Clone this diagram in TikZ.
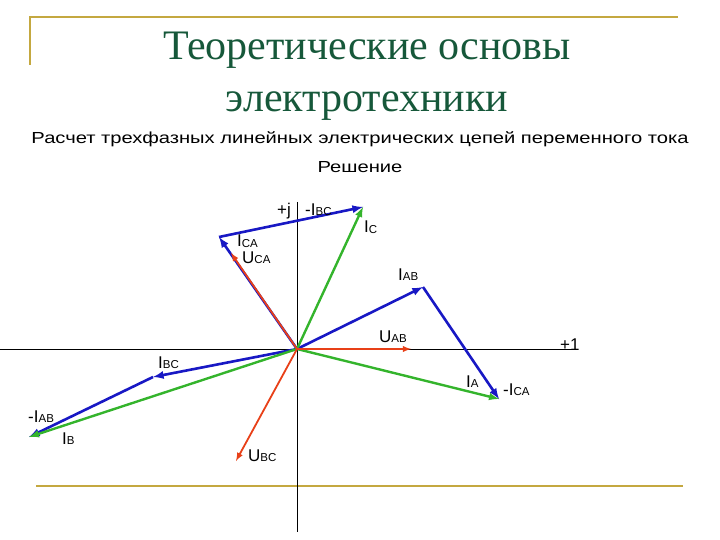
\documentclass[tikz,border=0pt]{standalone}
\usepackage{fontspec}
\setmainfont{Liberation Serif}
\setsansfont{Liberation Sans}
\usetikzlibrary{calc,positioning}

\definecolor{frameGold}{RGB}{196,168,64}
\definecolor{titleGreen}{RGB}{22,88,58}
\definecolor{vecBlue}{RGB}{24,24,196}
\definecolor{vecGreen}{RGB}{52,180,44}
\definecolor{vecRed}{RGB}{232,64,24}

\newcommand{\vlab}[2]{#1\raisebox{-0.5pt}{\fontsize{11.5}{12}\selectfont #2}}
\newcommand{\widetext}[1]{\scalebox{1.26}[1]{#1}}

\begin{document}
\begin{tikzpicture}[x=1pt,y=-1pt,>=latex,
  axis/.style={black,line width=0.8pt},
  cur/.style={->,vecBlue,line width=2.6pt},
  sum/.style={->,vecGreen,line width=2.4pt},
  volt/.style={->,vecRed,line width=1.8pt},
  lab/.style={font=\sffamily\fontsize{17}{17}\selectfont,anchor=base west,inner sep=0pt}]
\useasboundingbox (0,0) rectangle (720,540);
% frame and titles
\draw[frameGold,line width=2pt] (30,65) -- (30,17) -- (678,17);
\draw[frameGold,line width=2pt] (36,486) -- (683,486);
\node[titleGreen,font=\fontsize{42}{42}\selectfont,anchor=base] (title1) at (367,60) {Теоретические основы};
\node[titleGreen,font=\fontsize{42}{42}\selectfont,anchor=base] (title2) at (367,112) {электротехники};
\node[font=\sffamily\fontsize{16}{16}\selectfont,anchor=base] (sub1) at (360,144) {\widetext{Расчет трехфазных линейных электрических цепей переменного тока}};
\node[font=\sffamily\fontsize{16}{16}\selectfont,anchor=base] (sub2) at (360,173) {\widetext{Решение}};
% points
\coordinate (O) at (297,349);
\coordinate (Xl) at (0,349);
\coordinate (Xr) at (577,349);
\coordinate (Yt) at (297,202);
\coordinate (Yb) at (297,532);
\coordinate (Uab) at (411,349);
\coordinate (Ubc) at (236,461);
\coordinate (Uca) at (231,253);
\coordinate (Iab) at (423,287);
\coordinate (Ica) at (219,237);
\coordinate (Ibc) at (153,377);
\coordinate (Ia) at (499,399);
\coordinate (Ib) at (29,437);
\coordinate (Ic) at (363,207);
% axes
\draw[axis] (Xl) -- (Xr);
\draw[axis] (Yt) -- (Yb);
% phase currents
\foreach \Tip in {Iab,Ica,Ibc}
  \draw[cur] (O) -- (\Tip);
\draw[cur] (Iab) -- (Ia);
\draw[cur] (Ica) -- (Ic);
\draw[cur] (Ibc) -- (Ib);
% line currents
\foreach \Tip in {Ia,Ib,Ic}
  \draw[sum] (O) -- (\Tip);
% voltages
\foreach \Tip in {Uab,Ubc,Uca}
  \draw[volt] (O) -- (\Tip);
% labels
\node[lab] (lj) at (277,215) {+j};
\node[lab] (l1) at (560,350) {+1};
\node[lab] (lmIbc) at (305,215) {-\vlab{I}{BC}};
\node[lab] (lIc) at (364,233) {\vlab{I}{C}};
\node[lab] (lIca) at (237,247) {\vlab{I}{CA}};
\node[lab] (lUca) at (242,263) {\vlab{U}{CA}};
\node[lab] (lIab) at (398,280) {\vlab{I}{AB}};
\node[lab] (lUab) at (379,342) {\vlab{U}{AB}};
\node[lab] (lIbc) at (158,368) {\vlab{I}{BC}};
\node[lab] (lmIab) at (28,422) {-\vlab{I}{AB}};
\node[lab] (lIb) at (62,444) {\vlab{I}{B}};
\node[lab] (lUbc) at (248,461) {\vlab{U}{BC}};
\node[lab] (lIa) at (466,387) {\vlab{I}{A}};
\node[lab] (lmIca) at (503,395) {-\vlab{I}{CA}};
\end{tikzpicture}
\end{document}
